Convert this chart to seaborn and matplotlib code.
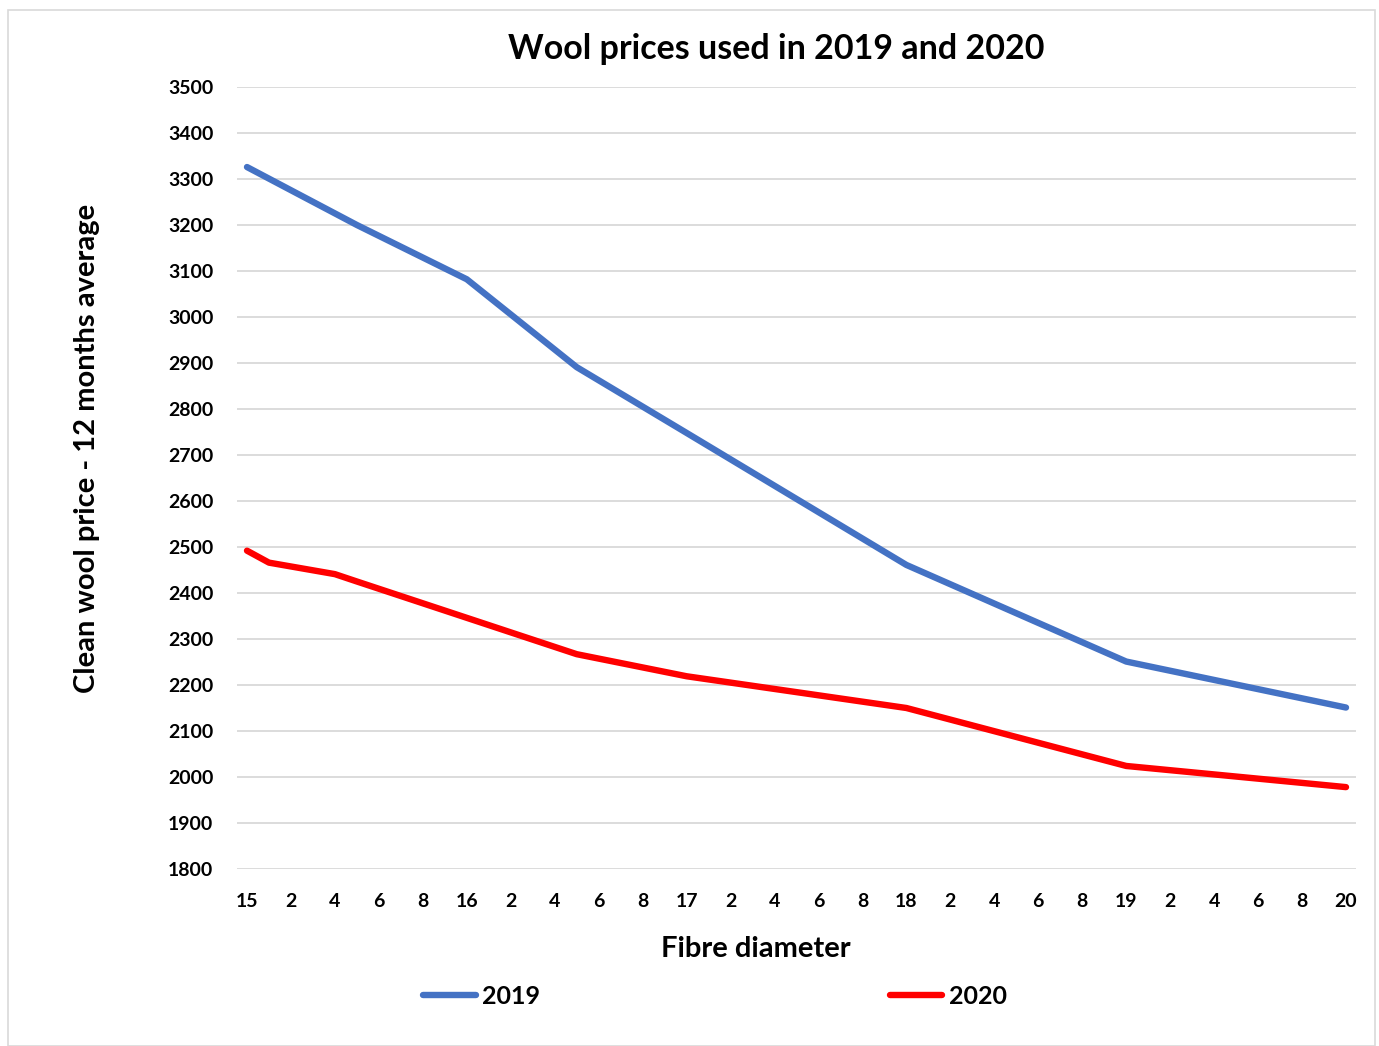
import matplotlib
matplotlib.use("Agg")
import matplotlib.pyplot as plt
import matplotlib.patches as mpatches
import seaborn as sns
import pandas as pd
import numpy as np

# Data (fibre diameter in microns vs clean wool price)
diam_2019 = [15.0, 15.5, 16.0, 16.5, 17.0, 18.0, 19.0, 20.0]
price_2019 = [3326, 3200, 3082, 2891, 2748, 2461, 2251, 2151]
diam_2020 = [15.0, 15.1, 15.4, 15.5, 16.5, 17.0, 18.0, 19.0, 20.0]
price_2020 = [2492, 2466, 2441, 2425, 2267, 2219, 2150, 2024, 1978]

tick_pos = [round(15 + 0.2 * k, 1) for k in range(26)]
tick_labels = ["15", "2", "4", "6", "8", "16", "2", "4", "6", "8",
               "17", "2", "4", "6", "8", "18", "2", "4", "6", "8",
               "19", "2", "4", "6", "8", "20"]
y_ticks = list(range(1800, 3501, 100))

df = pd.concat([
    pd.DataFrame({"diameter": diam_2019, "price": price_2019, "year": "2019"}),
    pd.DataFrame({"diameter": diam_2020, "price": price_2020, "year": "2020"}),
])

sns.set_theme(style="white")
plt.rcParams["font.family"] = ["Lato", "DejaVu Sans"]
plt.rcParams["font.weight"] = "bold"
plt.rcParams["text.color"] = "black"
plt.rcParams["axes.labelcolor"] = "black"
plt.rcParams["xtick.color"] = "black"
plt.rcParams["ytick.color"] = "black"

fig = plt.figure(figsize=(13.79, 10.46), dpi=100)
ax = fig.add_axes([237 / 1379, 1 - 869 / 1046, (1356 - 237) / 1379, (869 - 87) / 1046])

sns.lineplot(data=df, x="diameter", y="price", hue="year",
             palette={"2019": "#4472C4", "2020": "#FF0000"},
             linewidth=4.6, estimator=None, sort=True, ax=ax, legend=False,
             solid_capstyle="round", solid_joinstyle="round")

ax.set_xlim(15 - 10 / 219.8, 20 + 10 / 219.8)
ax.set_ylim(1800, 3500)
ax.set_yticks(y_ticks)
ax.set_yticklabels([str(v) for v in y_ticks], fontsize=14, fontweight="bold")
ax.set_xticks(tick_pos)
ax.set_xticklabels(tick_labels, fontsize=14, fontweight="bold")
ax.tick_params(axis="y", length=0, pad=17)
ax.tick_params(axis="x", length=0, pad=17)
ax.grid(axis="y", color="#d9d9d9", linewidth=1.3)
ax.grid(axis="x", visible=False)
for s in ax.spines.values():
    s.set_visible(False)
ax.set_axisbelow(True)

ax.set_xlabel("Fibre diameter", fontsize=21, fontweight="bold")
ax.xaxis.label.set_va("center")
ax.xaxis.set_label_coords((756 - 237) / 1119, (869 - 949) / 782)
ax.set_ylabel("Clean wool price - 12 months average", fontsize=21, fontweight="bold")
ax.yaxis.label.set_va("center")
ax.yaxis.set_label_coords((87 - 237) / 1119, (869 - 448) / 782)

fig.text(776 / 1379, 1 - 49 / 1046, "Wool prices used in 2019 and 2020",
         ha="center", va="center", fontsize=24.5, fontweight="bold", color="black")

handles = [plt.Line2D([], [], color="#4472C4", linewidth=4.6, solid_capstyle="round"),
           plt.Line2D([], [], color="#FF0000", linewidth=4.6, solid_capstyle="round")]
fig.legend(handles, ["2019", "2020"], loc="center", ncol=2,
           bbox_to_anchor=(715 / 1379, 1 - 996 / 1046), frameon=False,
           prop={"size": 18, "weight": "bold"}, handlelength=2.1,
           handletextpad=0.25, columnspacing=14)

fig.patches.append(mpatches.Rectangle((8 / 1379, 0), (1375 - 8) / 1379, 1 - 10 / 1046,
                                      transform=fig.transFigure, fill=False,
                                      edgecolor="#d9d9d9", linewidth=1.2))

fig.savefig("out.png", dpi=100)
